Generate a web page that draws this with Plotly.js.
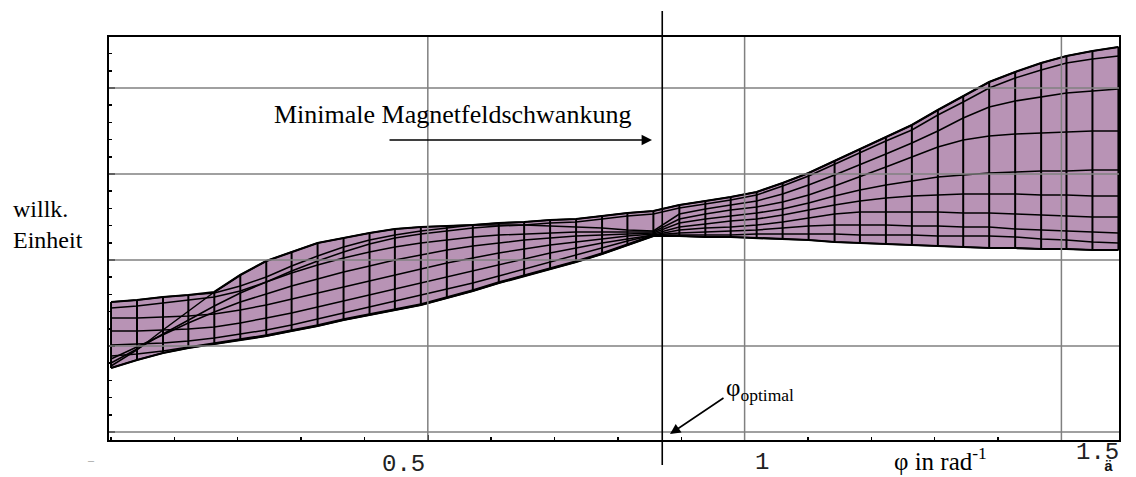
<!DOCTYPE html>
<html><head><meta charset="utf-8">
<script src="https://cdn.plot.ly/plotly-3.0.1.min.js"></script>
<style>html,body{margin:0;padding:0;background:#fff}#chart{width:1136px;height:477px}</style>
</head><body><div id="chart"></div>
<script>
// phi mesh positions (rad^-1)
const phi = [0, 0.041, 0.082, 0.122, 0.163, 0.204, 0.245, 0.285, 0.326, 0.367, 0.408, 0.448, 0.489, 0.530, 0.571, 0.612, 0.652, 0.693, 0.734, 0.775, 0.815, 0.856, 0.897, 0.938, 0.978, 1.019, 1.060, 1.101, 1.142, 1.182, 1.223, 1.264, 1.305, 1.345, 1.386, 1.427, 1.468, 1.508, 1.549, 1.590];
// parameter curves (arbitrary units)
const curve0 = [130,132,135,137,139,146,155,166,176,185,192,197,201,204,207,209,210,212,213,216,219,221,227,231,235,240,249,259,271,283,295,307,322,336,350,360,369,376,381,385];
const curve1 = [124,126,129,132,135,141,150,161,171,180,188,194,198,201,204,206,207,209,210,213,216,218,224,228,232,237,246,256,268,279,291,302,317,330,344,354,362,369,373,376];
const curve2 = [66,82,102,121,140,157,171,180,189,194,199,203,205,206,207,207,207,206,205,204,202,201,218,223,227,231,238,247,257,267,278,289,301,314,325,331,335,339,341,343];
const curve3 = [69,83,98,112,126,139,150,159,167,174,180,185,189,192,195,197,198,199,200,200,200,200,213,218,222,225,230,237,246,255,265,275,285,292,296,298,299,300,301,301];
const curve4 = [73,85,97,109,120,130,138,146,153,160,166,172,177,182,186,189,192,194,196,197,198,199,209,213,216,219,223,229,236,242,247,251,255,257,259,260,261,261,262,262];
const curve5 = [114,114,115,116,118,122,127,133,139,145,151,157,163,169,174,179,183,187,190,193,196,198,205,208,211,213,217,222,227,231,234,236,237,238,238,238,237,237,236,236];
const curve6 = [101,101,102,103,105,109,114,119,125,131,137,143,149,155,161,167,173,179,184,189,193,197,202,204,205,207,210,214,218,220,220,220,220,219,219,218,217,216,215,215];
const curve7 = [87,88,89,91,94,98,102,107,113,119,125,131,137,143,149,156,163,170,177,184,191,197,199,200,201,202,204,206,207,207,207,206,206,205,205,203,202,201,200,199];
const curve8 = [76,78,81,85,89,93,97,102,107,113,118,123,128,135,142,150,157,164,171,179,188,197,197,197,197,198,198,198,198,197,197,197,196,196,196,195,193,192,190,189];
const curve9 = [64,72,79,84,88,92,96,101,106,112,117,122,127,134,141,149,156,163,170,178,187,196,196,195,195,194,193,192,190,189,188,187,186,185,184,184,183,183,182,182];
const xTickVals = [0.5, 1, 1.5];
const xTickText = ['0.5', '1', '1.5'];
const yGridVals = [0, 86, 172, 258, 344];
const phiOptimal = 0.87;

const curves = [curve0, curve1, curve2, curve3, curve4, curve5, curve6, curve7, curve8, curve9];
const upper = phi.map((_, i) => Math.max(...curves.map(c => c[i])));
const lower = phi.map((_, i) => Math.min(...curves.map(c => c[i])));

const W = 1136, H = 477, M = {l: 109, r: 17, t: 37, b: 37};
const pw = W - M.l - M.r, ph = H - M.t - M.b;
const xRange = [-0.0032, 1.5909], yRange = [-8, 395];
const px = v => (v - M.l) / pw;           // pixel -> paper x
const py = v => (H - M.b - v) / ph;        // pixel -> paper y
const dataToPaperX = v => (v - xRange[0]) / (xRange[1] - xRange[0]);

const fillColor = 'rgb(184,147,181)';
const traces = [];
traces.push({
  x: phi.concat(phi.slice().reverse()),
  y: upper.concat(lower.slice().reverse()),
  mode: 'lines', fill: 'toself', fillcolor: fillColor,
  line: {width: 0}, hoverinfo: 'skip', showlegend: false
});
curves.forEach(c => traces.push({x: phi, y: c, mode: 'lines', line: {color: '#000', width: 1.5}, hoverinfo: 'skip', showlegend: false}));
const mx = [], my = [];
phi.forEach((x, i) => { mx.push(x, x, null); my.push(lower[i], upper[i], null); });
traces.push({x: mx, y: my, mode: 'lines', line: {color: '#000', width: 2}, hoverinfo: 'skip', showlegend: false});
traces.push({x: phi, y: upper, mode: 'lines', line: {color: '#000', width: 2.2}, hoverinfo: 'skip', showlegend: false});
traces.push({x: phi, y: lower, mode: 'lines', line: {color: '#000', width: 2.2}, hoverinfo: 'skip', showlegend: false});

const gridColor = 'rgb(128,128,128)';
const shapes = [];
xTickVals.forEach(v => shapes.push({type: 'line', xref: 'x', yref: 'paper', x0: v, x1: v, y0: 0, y1: 1, line: {color: gridColor, width: 1.5}, layer: 'above'}));
yGridVals.forEach(v => shapes.push({type: 'line', xref: 'paper', yref: 'y', x0: 0, x1: 1, y0: v, y1: v, line: {color: gridColor, width: 1.5}, layer: 'above'}));
const xo = dataToPaperX(phiOptimal);
shapes.push({type: 'line', xref: 'paper', yref: 'paper', x0: xo, x1: xo, y0: py(465), y1: py(11), line: {color: '#000', width: 1.6}, layer: 'above'});

const serif = 'Liberation Serif, Times New Roman, serif';
const mono = 'Liberation Mono, Courier New, monospace';
const tickShift = [[-24, -24], [17, -22], [36, -12]];
const annotations = [];
xTickVals.forEach((v, k) => annotations.push({
  x: v, xref: 'x', y: 0, yref: 'paper', text: xTickText[k], showarrow: false,
  xanchor: 'center', yanchor: 'middle', xshift: tickShift[k][0], yshift: tickShift[k][1],
  font: {family: mono, size: 24, color: '#222'}
}));
annotations.push({x: px(1108), y: py(467), xref: 'paper', yref: 'paper', text: '<b>ä</b>', showarrow: false, xanchor: 'center', yanchor: 'middle', font: {family: mono, size: 15, color: '#111'}});
annotations.push({x: px(91), y: py(460), xref: 'paper', yref: 'paper', text: '–', showarrow: false, xanchor: 'center', yanchor: 'middle', font: {family: serif, size: 12, color: '#999'}});
annotations.push({x: px(892), y: py(477), xref: 'paper', yref: 'paper', text: 'φ in rad<sup>-1</sup>', showarrow: false, xanchor: 'left', yanchor: 'bottom', font: {family: serif, size: 25, color: '#000'}});
annotations.push({x: px(11), y: py(225), xref: 'paper', yref: 'paper', text: 'willk.<br>Einheit', align: 'left', showarrow: false, xanchor: 'left', yanchor: 'middle', font: {family: serif, size: 24, color: '#000'}});
annotations.push({x: px(272), y: py(114), xref: 'paper', yref: 'paper', text: 'Minimale Magnetfeldschwankung', showarrow: false, xanchor: 'left', yanchor: 'middle', font: {family: serif, size: 26, color: '#000'}});
annotations.push({x: px(652), y: py(140), xref: 'paper', yref: 'paper', text: '', showarrow: true, ax: -264, ay: 0, arrowhead: 2, arrowsize: 1.3, arrowwidth: 1.6, arrowcolor: '#000'});
annotations.push({x: px(724), y: py(389), xref: 'paper', yref: 'paper', text: 'φ<sub>optimal</sub>', showarrow: false, xanchor: 'left', yanchor: 'middle', font: {family: serif, size: 25, color: '#000'}});
annotations.push({x: px(670), y: py(434), xref: 'paper', yref: 'paper', text: '', showarrow: true, ax: 55, ay: -37, arrowhead: 2, arrowsize: 1.3, arrowwidth: 1.6, arrowcolor: '#000'});

const layout = {
  width: W, height: H, margin: M, paper_bgcolor: '#fff', plot_bgcolor: '#fff', showlegend: false,
  xaxis: {
    range: xRange, showgrid: false, zeroline: false, showline: true, mirror: true,
    linecolor: '#000', linewidth: 2, ticks: 'inside', tickmode: 'array', tickvals: xTickVals,
    ticklen: 5, tickwidth: 1.5, tickcolor: '#000', showticklabels: false,
    minor: {tickmode: 'linear', tick0: 0, dtick: 0.1, ticks: 'inside', ticklen: 3, tickwidth: 1.5, tickcolor: '#000', showgrid: false}
  },
  yaxis: {
    range: yRange, showgrid: false, zeroline: false, showline: true, mirror: true,
    linecolor: '#000', linewidth: 2, ticks: 'inside', tickmode: 'array', tickvals: yGridVals,
    ticklen: 6, tickwidth: 1.5, tickcolor: '#000', showticklabels: false,
    minor: {tickmode: 'linear', tick0: 0, dtick: 17.2, ticks: 'inside', ticklen: 3, tickwidth: 1.5, tickcolor: '#000', showgrid: false}
  },
  shapes: shapes, annotations: annotations
};
Plotly.newPlot('chart', traces, layout, {displayModeBar: false, staticPlot: true});
</script></body></html>
